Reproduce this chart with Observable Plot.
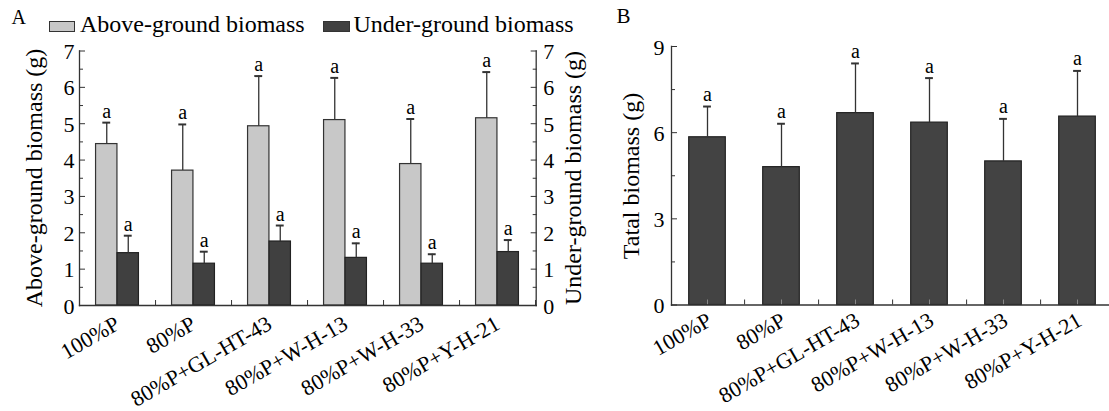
<!DOCTYPE html>
<html><head><meta charset="utf-8">
<script src="https://cdn.jsdelivr.net/npm/d3@7"></script>
<script src="https://cdn.jsdelivr.net/npm/@observablehq/plot@0.6"></script>
<style>
body{margin:0;overflow:hidden;background:#fff;}
#wrap{position:relative;width:1109px;height:411px;font-family:"Times New Roman","Liberation Serif",Tinos,serif;color:#000;}
.pa{position:absolute;top:0;}
.t{position:absolute;line-height:1;white-space:nowrap;}
.box{position:absolute;box-sizing:border-box;border:1.5px solid #333;}
</style></head><body><div id="wrap"></div>
<script>
// ---------- data ----------
const treatments = ["100%P","80%P","80%P+GL-HT-43","80%P+W-H-13","80%P+W-H-33","80%P+Y-H-21"];
const seriesNames = ["Above-ground biomass","Under-ground biomass"];
const aboveMean = [4.44,3.71,4.93,5.10,3.89,5.15];
const aboveErr  = [0.59,1.27,1.38,1.16,1.24,1.27];
const underMean = [1.44,1.15,1.76,1.31,1.15,1.47];
const underErr  = [0.48,0.33,0.44,0.40,0.26,0.33];
const totalMean = [5.84,4.80,6.68,6.35,5.00,6.56];
const totalErr  = [1.07,1.51,1.73,1.55,1.48,1.59];
const sigAbove = ["a","a","a","a","a","a"];
const sigUnder = ["a","a","a","a","a","a"];
const sigTotal = ["a","a","a","a","a","a"];
const ticksA = [0,1,2,3,4,5,6,7];
const minorA = [0.5,1.5,2.5,3.5,4.5,5.5,6.5];
const ticksB = [0,3,6,9];
const minorB = [1.5,4.5,7.5];
const yTitleA = "Above-ground biomass (g)";
const yTitleA2 = "Under-ground biomass (g)";
const yTitleB = "Tatal biomass (g)";

const rows = (means, errs, sigs) => treatments.map((t,i)=>({treatment:t, mean:means[i], top:means[i]+errs[i], sig:sigs[i]}));
const above = rows(aboveMean, aboveErr, sigAbove);
const under = rows(underMean, underErr, sigUnder);
const total = rows(totalMean, totalErr, sigTotal);

const wrap = document.getElementById("wrap");
const FONT = '"Times New Roman","Liberation Serif",Tinos,serif';
const H = 411;
const ink = "#333";

function addText(txt, x, yBase, size) {
  const d = document.createElement("div");
  d.className = "t"; d.textContent = txt;
  d.style.fontSize = size + "px";
  d.style.left = x + "px";
  d.style.top = (yBase - 0.8375*size) + "px";
  wrap.appendChild(d);
}
function addVText(txt, cx, cy, size) {
  const d = document.createElement("div");
  d.className = "t"; d.textContent = txt;
  d.style.fontSize = size + "px";
  d.style.left = cx + "px"; d.style.top = cy + "px";
  d.style.transform = "translate(-50%,-50%) rotate(-90deg)";
  wrap.appendChild(d);
}
function addBox(x, y, w, h, fill) {
  const d = document.createElement("div");
  d.className = "box";
  Object.assign(d.style, {left:x+"px", top:y+"px", width:w+"px", height:h+"px", background:fill});
  wrap.appendChild(d);
}

function yAxes(ticks, minor, anchor, pad) {
  return [
    Plot.axisY(minor, {anchor, tickSize:-4, tickFormat:()=>"", stroke:ink, label:null}),
    Plot.axisY(ticks, {anchor, tickSize:-6, tickFormat:()=>"", stroke:ink, label:null}),
    Plot.axisY(ticks, {anchor, tickSize:0, tickPadding:pad, fontSize:22, dy:1, label:null})
  ];
}

// ---------- Panel A ----------
const WA = 600, mLA = 79, mRA = 64.3, mTA = 50.5, mBA = 106;
const stepA = (WA - mLA - mRA) / treatments.length;
const bwA = 21.5, capA = 4;
const lightFill = "#c8c8c8", darkFill = "#404040";

const plotA = Plot.plot({
  width: WA, height: H,
  marginLeft: mLA, marginRight: mRA, marginTop: mTA, marginBottom: mBA,
  style: {fontFamily: FONT, fontSize: "22px", background: "transparent", color: "#000"},
  x: {domain: treatments, padding: 0, label: null},
  y: {domain: [0,7], label: null},
  marks: [
    Plot.axisX({tickSize:-5, tickFormat:()=>"", dx: stepA/2, stroke:ink, label:null}),
    Plot.barY(above, {x:"treatment", y:"mean", fill:lightFill, stroke:ink, strokeWidth:1.2, insetLeft: stepA/2 - bwA, insetRight: stepA/2}),
    Plot.barY(under, {x:"treatment", y:"mean", fill:darkFill, stroke:"#222", strokeWidth:1.2, insetLeft: stepA/2, insetRight: stepA/2 - bwA}),
    Plot.ruleX(above, {x:"treatment", y1:"mean", y2:"top", dx:-bwA/2, stroke:ink, strokeWidth:1.3}),
    Plot.ruleX(under, {x:"treatment", y1:"mean", y2:"top", dx: bwA/2, stroke:ink, strokeWidth:1.3}),
    Plot.tickY(above, {x:"treatment", y:"top", insetLeft: stepA/2 - bwA/2 - capA, insetRight: stepA/2 + bwA/2 - capA, stroke:ink, strokeWidth:2}),
    Plot.tickY(under, {x:"treatment", y:"top", insetLeft: stepA/2 + bwA/2 - capA, insetRight: stepA/2 - bwA/2 - capA, stroke:ink, strokeWidth:2}),
    Plot.text(above, {x:"treatment", y:"top", text:"sig", dx:-bwA/2, dy:-5, lineAnchor:"bottom", fontSize:20}),
    Plot.text(under, {x:"treatment", y:"top", text:"sig", dx: bwA/2, dy:-5, lineAnchor:"bottom", fontSize:20}),
    ...yAxes(ticksA, minorA, "left", 5),
    ...yAxes(ticksA, minorA, "right", 7),
    Plot.axisX({tickSize:0, tickPadding:9, tickRotate:-30, textAnchor:"end", lineAnchor:"top", dx:-4, fontSize:22, label:null}),
    Plot.frame({anchor:"left", stroke:ink, strokeWidth:1.3}),
    Plot.frame({anchor:"right", stroke:ink, strokeWidth:1.3}),
    Plot.frame({anchor:"bottom", stroke:ink, strokeWidth:1.3})
  ]
});
const dA = document.createElement("div"); dA.className = "pa"; dA.style.left = "0px"; dA.style.width = WA + "px";
dA.appendChild(plotA); wrap.appendChild(dA);

// ---------- Panel B ----------
const offB = 590, WB = 519, mLB = 81, mTB = 46, mBB = 106.5;
const stepB = 74.2, bwB = 36.8, x0B = 78.9, capB = 4;
const plotB = Plot.plot({
  width: WB, height: H,
  marginLeft: mLB, marginRight: 0, marginTop: mTB, marginBottom: mBB,
  style: {fontFamily: FONT, fontSize: "22px", background: "transparent", color: "#000"},
  x: {domain: treatments, padding: 0, range: [x0B, x0B + stepB*treatments.length], label: null},
  y: {domain: [0,9], label: null},
  marks: [
    Plot.axisX({tickSize:-5, tickFormat:()=>"", dx: stepB/2, stroke:ink, label:null}),
    Plot.barY(total, {x:"treatment", y:"mean", fill:"#434343", stroke:"#222", strokeWidth:1.2, insetLeft:(stepB-bwB)/2, insetRight:(stepB-bwB)/2}),
    Plot.axisX({tickSize:-5, tickFormat:()=>"", stroke:"#888", label:null}),
    Plot.ruleX(total, {x:"treatment", y1:"mean", y2:"top", stroke:ink, strokeWidth:1.3}),
    Plot.tickY(total, {x:"treatment", y:"top", insetLeft: stepB/2 - capB, insetRight: stepB/2 - capB, stroke:ink, strokeWidth:2}),
    Plot.text(total, {x:"treatment", y:"top", text:"sig", dy:-5.5, lineAnchor:"bottom", fontSize:20}),
    ...yAxes(ticksB, minorB, "left", 7),
    Plot.axisX({tickSize:0, tickPadding:6, tickRotate:-30, textAnchor:"end", lineAnchor:"top", dx:-2, fontSize:22, label:null}),
    Plot.frame({anchor:"left", stroke:ink, strokeWidth:1.3}),
    Plot.frame({anchor:"bottom", stroke:ink, strokeWidth:1.3})
  ]
});
const dB = document.createElement("div"); dB.className = "pa"; dB.style.left = offB + "px"; dB.style.width = WB + "px";
dB.appendChild(plotB); wrap.appendChild(dB);

// ---------- titles, legend, panel letters ----------
addText("A", 11.5, 23.5, 20);
addText("B", 616.5, 23.5, 21);
addBox(49, 20.5, 25.5, 11.5, lightFill);
addText(seriesNames[0], 80, 32, 24);
addBox(323, 21, 26.5, 11, darkFill);
addText(seriesNames[1], 353.5, 32, 24);
addVText(yTitleA, 34, 177.5, 24);
addVText(yTitleA2, 572.5, 177.5, 24);
addVText(yTitleB, 630.5, 175.5, 24);
</script></body></html>
